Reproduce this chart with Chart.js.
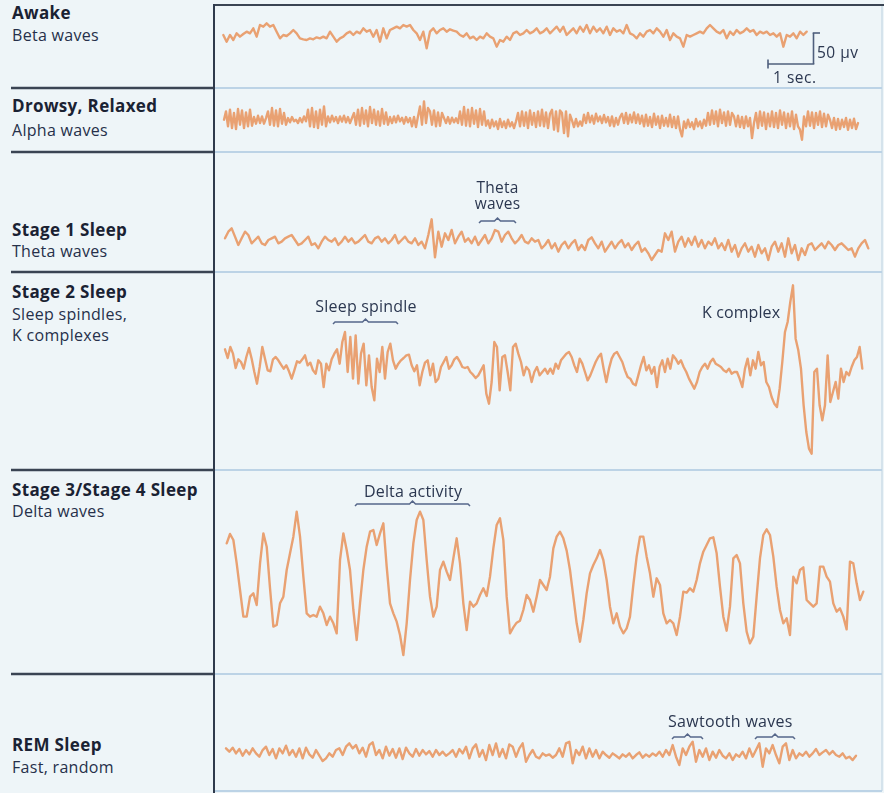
<!DOCTYPE html>
<html>
<head>
<meta charset="utf-8">
<script src="https://cdn.jsdelivr.net/npm/chart.js@4.4.1/dist/chart.umd.min.js"></script>
<style>
  html, body { margin: 0; padding: 0; }
  body { width: 884px; height: 793px; background: #eef5f8; position: relative; overflow: hidden;
         font-family: "Open Sans", sans-serif; color: #1d2739; }
  .row { position: absolute; left: 214px; width: 668px; }
  .txt { position: absolute; white-space: nowrap; line-height: 20px; }
  #frame { position: absolute; left: 0; top: 0; }
</style>
</head>
<body>
<svg id="frame" width="884" height="793"></svg>
<script>
// Amplitudes, in trace units (3 units = 1 px, 93 units = 50 uV)
const awakeBeta = [
  0,-20,0,-15,5,-5,3,10,5,20,-5,30,25,35,25,30,10,-10,0,-3,5,15,5,-10,-13,-15,-10,-13,-7,-10,
  -5,-10,10,-5,-20,-10,-5,5,10,0,10,5,20,10,15,-5,15,-20,20,-10,15,20,25,20,30,25,30,15,5,-15,
  10,-40,10,20,5,15,20,10,17,13,10,0,-5,5,-10,-5,-15,-5,-10,5,-5,-10,-35,-15,-20,-5,-15,5,10,0,
  5,15,5,10,20,5,
  10,20,5,15,25,10,25,0,10,20,5,25,10,30,5,25,10,20,5,25,0,20,10,15,5,30,5,0,-10,5,
  -5,10,15,5,20,10,-5,15,-15,5,-5,-10,-35,0,-5,0,5,10,5,20,30,20,10,5,15,-10,10,0,15,5,
  10,20,10,15,0,10,5,10,0,5,-5,5,-35,0,-5,5,-10,10,0,10
];

const drowsyAlpha = [
  0,25,-20,30,-25,20,-28,32,-15,28,-25,22,-20,30,-18,
  8,-12,12,-10,10,-12,5,
  25,-15,35,-18,28,-20,32,-12,20,-15,
  5,-8,8,-5,0,-10,5,-8,10,-5,
  30,-20,35,-22,25,-25,30,-15,40,-20,
  10,-8,12,-5,8,-10,10,-6,12,-8,8,-10,5,
  20,-15,30,-18,35,-12,28,-20,38,-10,30,-15,25,-18,32,-12,22,-15,
  8,-10,10,-8,12,-5,6,-12,8,-8,
  5,-20,8,-22,10,
  40,-15,55,-10,35,
  25,-15,28,-20,22,-18,20,
  5,-10,8,-12,6,-8,4,-10,
  25,-15,38,-18,30,-20,35,-12,28,-22,32,-15,25,-18,
  -2,-25,0,-20,-5,-28,2,-22,-5,-25,0,-20,-8,-25,-5,
  20,-20,25,-18,22,-25,28,-15,20,-22,25,-18,30,-20,22,-25,18,
  30,-30,25,-35,28,
  20,-40,25,-50,15,
  -2,-22,2,-20,-5,-18,
  15,-10,20,-8,12,-12,18,-5,10,-10,14,-8,
  8,-18,10,-20,5,-15,8,
  18,-10,20,-12,15,-8,22,-10,16,-12,
  12,-20,15,-18,8,-22,18,-15,10,-25,12,-18,5,-20,15,-22,8,-25,10,-30,
  -50,-5,-25,0,-22,-8,-28,2,-20,-5,-25,0,-18,
  20,-15,28,-12,25,-20,30,-10,22,-18,25,-15,20,
  10,-20,12,-22,8,-25,10,-20,5,-55,
  -10,20,-25,25,-18,22,-28,18,-20,25,-22,20,-25,28,-15,22,-25,18,-20,25,-28,15,-20,
  -30,-60,10,-20,25,-18,22,-25,20,-15,25,-22,18,-20,15,
  0,-25,5,-30,2,-28,0,-22,5,-30,0,-25,3,-28,-10
];

const stage1Theta = [
  5,25,35,10,-15,5,25,15,-10,0,10,-10,-15,0,5,10,-10,-5,5,10,
  15,0,-15,-10,0,10,-15,-10,-25,-5,10,0,-5,5,-15,-5,10,-5,5,-10,
  -5,5,15,-5,-10,5,10,-5,5,-10,0,15,-10,0,10,-5,-10,5,-15,-5,
  -25,15,62,-52,25,-20,20,0,30,-10,10,25,-5,5,-10,10,-15,0,15,-10,
  5,30,25,-5,15,25,5,-10,0,15,-5,-10,5,-5,0,
  -25,-15,0,-25,-10,-35,-15,-5,-25,-10,0,-30,-15,-30,0,8,-10,-25,-5,-35,
  -20,-5,-25,-10,0,-22,-10,-30,-15,-5,-35,-25,-40,-60,-45,-30,-35,20,0,25,
  -35,-5,10,-20,5,-15,10,-20,0,-25,-5,-15,5,-25,-10,-30,0,-35,-15,-50,
  -25,-10,-35,-20,-50,-15,-40,-25,-60,-20,-5,-35,-10,-50,5,-40,-15,-60,-25,-45,
  -15,-10,-30,-20,-10,-25,-5,-15,-30,-15,-10,-20,-30,-25,-50,-25,-10,0,-25
];

const stage2Spindles = [
  38,12,45,25,-18,8,0,-20,15,42,10,-30,-65,-15,45,10,-25,-28,8,15,
  5,-8,-20,-10,-28,-50,-25,2,-2,8,20,-10,-2,-25,-35,5,-5,-75,-5,-25,
  8,25,38,-5,60,90,-30,75,-50,80,-65,25,55,-70,20,-75,-115,10,-30,45,
  -50,30,55,5,-20,-5,5,12,20,22,-10,-28,-10,-70,-30,-2,5,-40,-5,-60,
  -50,-15,0,15,-20,-10,8,15,2,-15,-18,-15,-30,-38,-48,-40,-25,-10,-95,-125,
  -60,60,45,-85,15,20,-30,-85,45,55,25,0,-40,-15,-25,-60,-30,-15,-40,-30,
  -20,-35,
  -20,-35,-5,-20,5,15,25,30,15,-10,-30,10,-5,-30,-55,-40,-20,0,15,25,
  -20,-60,-20,10,25,30,15,0,-25,-45,-50,-65,-70,-40,-10,15,-25,-10,-35,-15,
  -75,-15,5,-30,10,-20,20,10,-5,5,-15,-30,-50,-65,-80,-60,-30,-15,-5,-20,
  0,10,-5,-10,-15,-25,-30,-20,-35,-30,-30,-50,-75,-20,10,-40,5,-20,30,-10,
  0,-60,-75,-105,-125,-135,-80,0,90,120,180,230,70,35,-20,-130,-210,-260,-275,-30,
  -20,-130,-175,-130,20,-120,-90,-60,-110,-20,-60,-30,-40,-15,5,15,45,-20
];

const stage34Delta = [
  110,138,120,50,-30,-110,-110,-50,-40,-75,50,140,100,-25,-140,-135,-70,-50,30,80,
  130,205,130,10,-100,-110,-105,-110,-80,-100,-135,-110,-130,-160,60,140,90,30,-90,-180,
  -70,30,100,145,150,105,140,170,40,-70,-100,-125,-165,-225,-130,0,110,180,205,180,
  60,-50,-110,-80,30,55,25,0,65,125,50,-70,-150,-65,-80,-70,-45,-25,-48,10,
  95,165,185,120,-50,-160,-142,-128,-122,-90,-45,-60,-95,-50,0,-15,-30,10,
  95,130,145,125,88,30,-50,-130,-185,-120,-40,20,45,65,90,60,0,-80,-130,-100,
  -140,-160,-145,-110,-15,70,130,130,70,20,-50,5,-15,-100,-130,-120,-130,-165,-110,-35,
  -38,-25,-35,0,50,85,105,125,128,80,-20,-110,-152,-80,65,75,50,-70,-155,-190,
  -170,-50,65,135,152,135,70,-20,-90,-130,-115,-165,10,-10,30,38,-60,-70,-80,-70,
  40,40,10,-5,-70,-95,-85,-110,-148,55,50,-10,-60,-35
];

const remSleep = [
  10,0,12,-5,8,-12,5,-8,10,-5,-15,5,15,-10,8,-20,10,-5,18,-10,
  5,-15,10,-20,12,-8,-18,5,-12,-28,-20,-5,-15,5,10,-10,15,25,10,20,
  -5,12,-15,20,28,-10,5,-20,15,-12,8,-18,10,-22,12,-5,-15,8,-12,5,
  -8,2,-15,5,-10,0,-12,-5,5,-15,8,-5,15,-20,10,22,-15,5,-25,20,
  -10,25,-15,8,-20,22,15,-15,10,25,-30,-10,5,-15,-20,-5,-12,-8,-18,-10,
  10,-15,25,30,-35,5,-10,15,-20,10,-15,5,-20,0,-10,-18,-5,-12,-20,-8,
  -15,-5,-20,-10,-2,-18,-8,-15,-5,-12,0,-15,5,-10,20,-15,-40,10,-10,15,
  30,-30,5,-15,10,-25,0,-18,5,-12,-20,-5,-25,-8,-15,0,-20,10,-15,5,
  25,-45,10,-5,20,-10,-35,15,25,-25,5,-20,-5,-12,0,-15,-5,8,-10,-2,
  5,-8,2,-10,-15,-5,-20,-15,-25,-12
];

const stageTitles = ['Awake', 'Drowsy, Relaxed', 'Stage 1 Sleep', 'Stage 2 Sleep', 'Stage 3/Stage 4 Sleep', 'REM Sleep'];
const stageNotes = [['Beta waves'], ['Alpha waves'], ['Theta waves'], ['Sleep spindles,', 'K complexes'], ['Delta waves'], ['Fast, random']];

const UNITS_PER_PX = 3;
const UNITS_PER_50UV = 93;
const PANEL_LEFT = 214, PANEL_RIGHT = 882;
const TRACE = '#e9a172';

// row geometry on the page (top/bottom of the band, trace baseline, first/last sample x)
const rows = [
  { data: awakeBeta,      top: 5,   bottom: 88,  base: 35,    x0: 223.3, x1: 806.7, titleY: 19.3,  noteY: [41.7] },
  { data: drowsyAlpha,    top: 88,  bottom: 152, base: 119.7, x0: 224,   x1: 858,   titleY: 112.7, noteY: [136] },
  { data: stage1Theta,    top: 152, bottom: 272, base: 240,   x0: 225,   x1: 868.3, titleY: 236.5, noteY: [257.5] },
  { data: stage2Spindles, top: 272, bottom: 470, base: 362,   x0: 225,   x1: 862.3, titleY: 298.5, noteY: [320.5, 341.5] },
  { data: stage34Delta,   top: 470, bottom: 674, base: 580,   x0: 226.7, x1: 863.3, titleY: 496.5, noteY: [517.5] },
  { data: remSleep,       top: 674, bottom: 791, base: 751.7, x0: 226,   x1: 856,   titleY: 751.7, noteY: [773] }
];

///////////////////////////////////////////////////////////////////////
///                           FRAME + BRACKETS
///////////////////////////////////////////////////////////////////////
const svg = document.getElementById('frame');
function line(x1, y1, x2, y2, color, w) {
  const l = document.createElementNS('http://www.w3.org/2000/svg', 'line');
  l.setAttribute('x1', x1); l.setAttribute('y1', y1);
  l.setAttribute('x2', x2); l.setAttribute('y2', y2);
  l.setAttribute('stroke', color); l.setAttribute('stroke-width', w);
  svg.appendChild(l);
}
function bracket(xa, xb, y) {
  const xc = (xa + xb) / 2;
  const p = document.createElementNS('http://www.w3.org/2000/svg', 'polyline');
  p.setAttribute('points', [
    [xa, y + 2], [xa + 2, y], [xc - 3, y], [xc, y - 3], [xc + 3, y], [xb - 2, y], [xb, y + 2]
  ].map(q => q.join(',')).join(' '));
  p.setAttribute('fill', 'none');
  p.setAttribute('stroke', '#56678a');
  p.setAttribute('stroke-width', 1.5);
  svg.appendChild(p);
}

line(PANEL_LEFT - 1, 5, 884, 5, '#3a4453', 2);
line(PANEL_RIGHT, 6, PANEL_RIGHT, 791, '#cddde9', 1.5);
rows.slice(1).forEach(r => {
  line(11, r.top, PANEL_LEFT, r.top, '#3a4453', 2.5);
  line(PANEL_LEFT, r.top, PANEL_RIGHT, r.top, '#bcd3e6', 2);
});
line(PANEL_LEFT, 791, PANEL_RIGHT, 791, '#bcd3e6', 2);
line(PANEL_LEFT, 4, PANEL_LEFT, 793, '#2f3a4c', 2);

bracket(479, 516, 221);
bracket(333, 398, 322);
bracket(355, 470, 504);
bracket(672, 703, 737);
bracket(755, 795, 737);

// scale bar: 50 uV vertical, 1 sec horizontal
const barH = UNITS_PER_50UV / UNITS_PER_PX;
line(813.5, 64, 813.5, 64 - barH, '#4f5f7d', 1.6);
line(812.7, 64 - barH, 820, 64 - barH, '#4f5f7d', 1.6);
line(768, 64, 814.3, 64, '#4f5f7d', 1.6);
line(768, 59.5, 768, 68.5, '#4f5f7d', 1.6);

///////////////////////////////////////////////////////////////////////
///                           CHARTS
///////////////////////////////////////////////////////////////////////
rows.forEach(r => {
  const box = document.createElement('div');
  box.className = 'row';
  box.style.top = r.top + 'px';
  box.style.height = (r.bottom - r.top) + 'px';
  const cv = document.createElement('canvas');
  box.appendChild(cv);
  document.body.appendChild(box);

  const n = r.data.length;
  const step = (r.x1 - r.x0) / (n - 1);
  new Chart(cv, {
    type: 'line',
    data: {
      datasets: [{
        data: r.data.map((v, i) => ({ x: i, y: v })),
        borderColor: TRACE,
        borderWidth: 2.4,
        borderJoinStyle: 'round',
        borderCapStyle: 'round',
        pointRadius: 0,
        tension: 0,
        clip: false
      }]
    },
    options: {
      responsive: true,
      maintainAspectRatio: false,
      animation: false,
      layout: { padding: 0 },
      plugins: { legend: { display: false }, tooltip: { enabled: false } },
      scales: {
        x: { type: 'linear', display: false,
             min: -(r.x0 - PANEL_LEFT) / step,
             max: (n - 1) + (PANEL_RIGHT - r.x1) / step },
        y: { display: false,
             min: -(r.bottom - r.base) * UNITS_PER_PX,
             max: (r.base - r.top) * UNITS_PER_PX }
      }
    }
  });
});

///////////////////////////////////////////////////////////////////////
///                           TEXT
///////////////////////////////////////////////////////////////////////
function addText(str, x, baseline, size, weight, color, spacing, center) {
  const d = document.createElement('div');
  d.className = 'txt';
  d.textContent = str;
  d.style.fontSize = size + 'px';
  d.style.fontWeight = weight;
  d.style.color = color;
  d.style.letterSpacing = spacing + 'px';
  // Open Sans metrics: ascent 1.069em, descent 0.293em, 20px line box
  d.style.top = (baseline - (10 + size * 0.388)) + 'px';
  d.style.left = x + 'px';
  if (center) d.style.transform = 'translateX(-50%)';
  document.body.appendChild(d);
}

rows.forEach((r, i) => {
  addText(stageTitles[i], 12, r.titleY, 17, 700, '#1a2233', 0.35);
  stageNotes[i].forEach((t, j) => addText(t, 12, r.noteY[j], 16, 400, '#26304a', 0.3));
});

const NOTE = '#2b3750';
addText('Theta', 497.5, 193.5, 15.5, 400, NOTE, 0.2, true);
addText('waves', 497.5, 209.5, 15.5, 400, NOTE, 0.2, true);
addText('Sleep spindle', 366, 312.5, 16, 400, NOTE, 0.2, true);
addText('K complex', 702, 318, 16, 400, NOTE, 0.1);
addText('Delta activity', 413, 497, 16, 400, NOTE, 0.2, true);
addText('Sawtooth waves', 668, 727, 16, 400, NOTE, 0.3);
addText('50 µv', 817, 58, 15.5, 400, NOTE, 0.5);
addText('1 sec.', 773, 83, 15.5, 400, NOTE, 0.5);
</script>
</body>
</html>
